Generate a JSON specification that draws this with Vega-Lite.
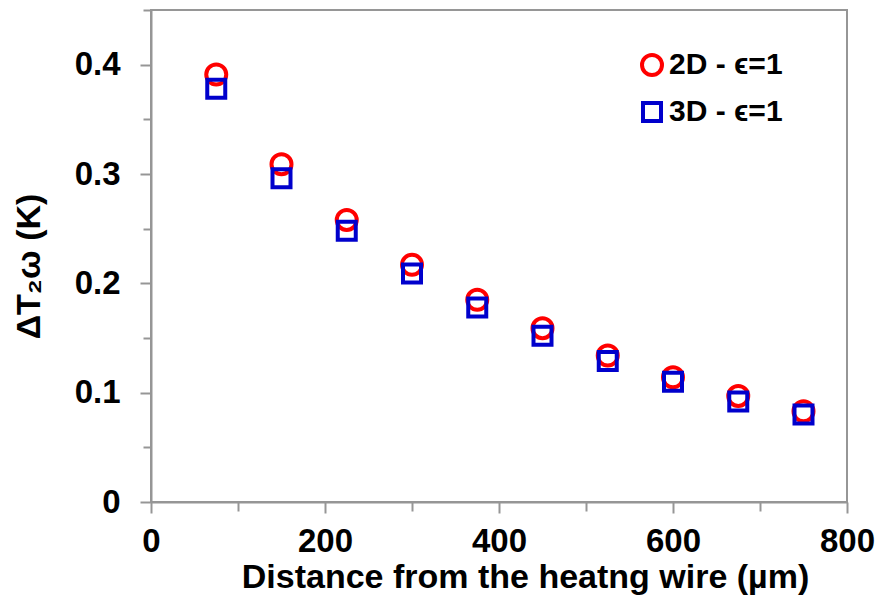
{
  "$schema": "https://vega.github.io/schema/vega-lite/v6.json",
  "autosize": {"type": "none"},
  "width": 696,
  "height": 492,
  "padding": {"left": 151, "top": 10, "right": 34, "bottom": 99},
  "background": "white",
  "config": {
    "font": "Liberation Sans",
    "view": {"stroke": "#969696", "strokeWidth": 2},
    "axis": {
      "domainColor": "#969696", "domainWidth": 2, "tickColor": "#969696", "tickWidth": 2,
      "grid": false, "labelFont": "Liberation Sans", "labelFontWeight": "bold", "labelFontSize": 33,
      "labelColor": "black", "titleFont": "Liberation Sans", "titleFontWeight": "bold", "titleFontSize": 34, "titleColor": "black"
    }
  },
  "data": {
    "values": [
      {"series": "2D - ϵ=1", "distance": 75, "dT": 0.391},
      {"series": "2D - ϵ=1", "distance": 150, "dT": 0.309},
      {"series": "2D - ϵ=1", "distance": 225, "dT": 0.258},
      {"series": "2D - ϵ=1", "distance": 300, "dT": 0.217},
      {"series": "2D - ϵ=1", "distance": 375, "dT": 0.185},
      {"series": "2D - ϵ=1", "distance": 450, "dT": 0.159},
      {"series": "2D - ϵ=1", "distance": 525, "dT": 0.134},
      {"series": "2D - ϵ=1", "distance": 600, "dT": 0.114},
      {"series": "2D - ϵ=1", "distance": 675, "dT": 0.097},
      {"series": "2D - ϵ=1", "distance": 750, "dT": 0.083},
      {"series": "3D - ϵ=1", "distance": 75, "dT": 0.378},
      {"series": "3D - ϵ=1", "distance": 150, "dT": 0.296},
      {"series": "3D - ϵ=1", "distance": 225, "dT": 0.248},
      {"series": "3D - ϵ=1", "distance": 300, "dT": 0.209},
      {"series": "3D - ϵ=1", "distance": 375, "dT": 0.178},
      {"series": "3D - ϵ=1", "distance": 450, "dT": 0.152},
      {"series": "3D - ϵ=1", "distance": 525, "dT": 0.129},
      {"series": "3D - ϵ=1", "distance": 600, "dT": 0.110},
      {"series": "3D - ϵ=1", "distance": 675, "dT": 0.092},
      {"series": "3D - ϵ=1", "distance": 750, "dT": 0.080}
    ]
  },
  "mark": {"type": "point", "filled": false, "strokeWidth": 4, "opacity": 1},
  "encoding": {
    "x": {
      "field": "distance", "type": "quantitative",
      "scale": {"domain": [0, 800], "nice": false, "zero": false},
      "axis": {
        "title": "Distance from the heatng wire (µm)",
        "values": [0, 100, 200, 300, 400, 500, 600, 700, 800],
        "labelExpr": "datum.value % 200 == 0 ? datum.label : ''",
        "tickSize": {"condition": {"test": "datum.value % 200 == 0", "value": 11}, "value": 9},
        "labelPadding": 12, "titlePadding": 2, "titleX": 374, "labelFlush": false, "labelOverlap": false
      }
    },
    "y": {
      "field": "dT", "type": "quantitative",
      "scale": {"domain": [0, 0.45], "nice": false, "zero": false},
      "axis": {
        "title": "ΔT₂ω (K)",
        "values": [0, 0.05, 0.1, 0.15, 0.2, 0.25, 0.3, 0.35, 0.4, 0.45],
        "format": ".1~f",
        "labelExpr": "abs(datum.value * 10 - round(datum.value * 10)) < 0.001 ? datum.label : ''",
        "tickSize": {"condition": {"test": "abs(datum.value * 10 - round(datum.value * 10)) < 0.001", "value": 11}, "value": 8},
        "labelPadding": 20, "titlePadding": 28, "titleY": 256, "labelFlush": false, "labelOverlap": false
      }
    },
    "color": {
      "field": "series", "type": "nominal",
      "scale": {"domain": ["2D - ϵ=1", "3D - ϵ=1"], "range": ["#FF0000", "#0000CC"]},
      "legend": {
        "title": null, "orient": "none", "legendX": 486, "legendY": 40,
        "labelFontSize": 30, "labelFontWeight": "bold", "labelColor": "black", "labelFont": "Liberation Sans",
        "symbolStrokeWidth": 4, "symbolSize": 300, "rowPadding": 12, "labelOffset": 2
      }
    },
    "shape": {
      "field": "series", "type": "nominal",
      "scale": {"domain": ["2D - ϵ=1", "3D - ϵ=1"], "range": ["circle", "square"]}
    },
    "size": {
      "field": "series", "type": "ordinal",
      "scale": {"domain": ["2D - ϵ=1", "3D - ϵ=1"], "range": [400, 324]}
    }
  }
}
